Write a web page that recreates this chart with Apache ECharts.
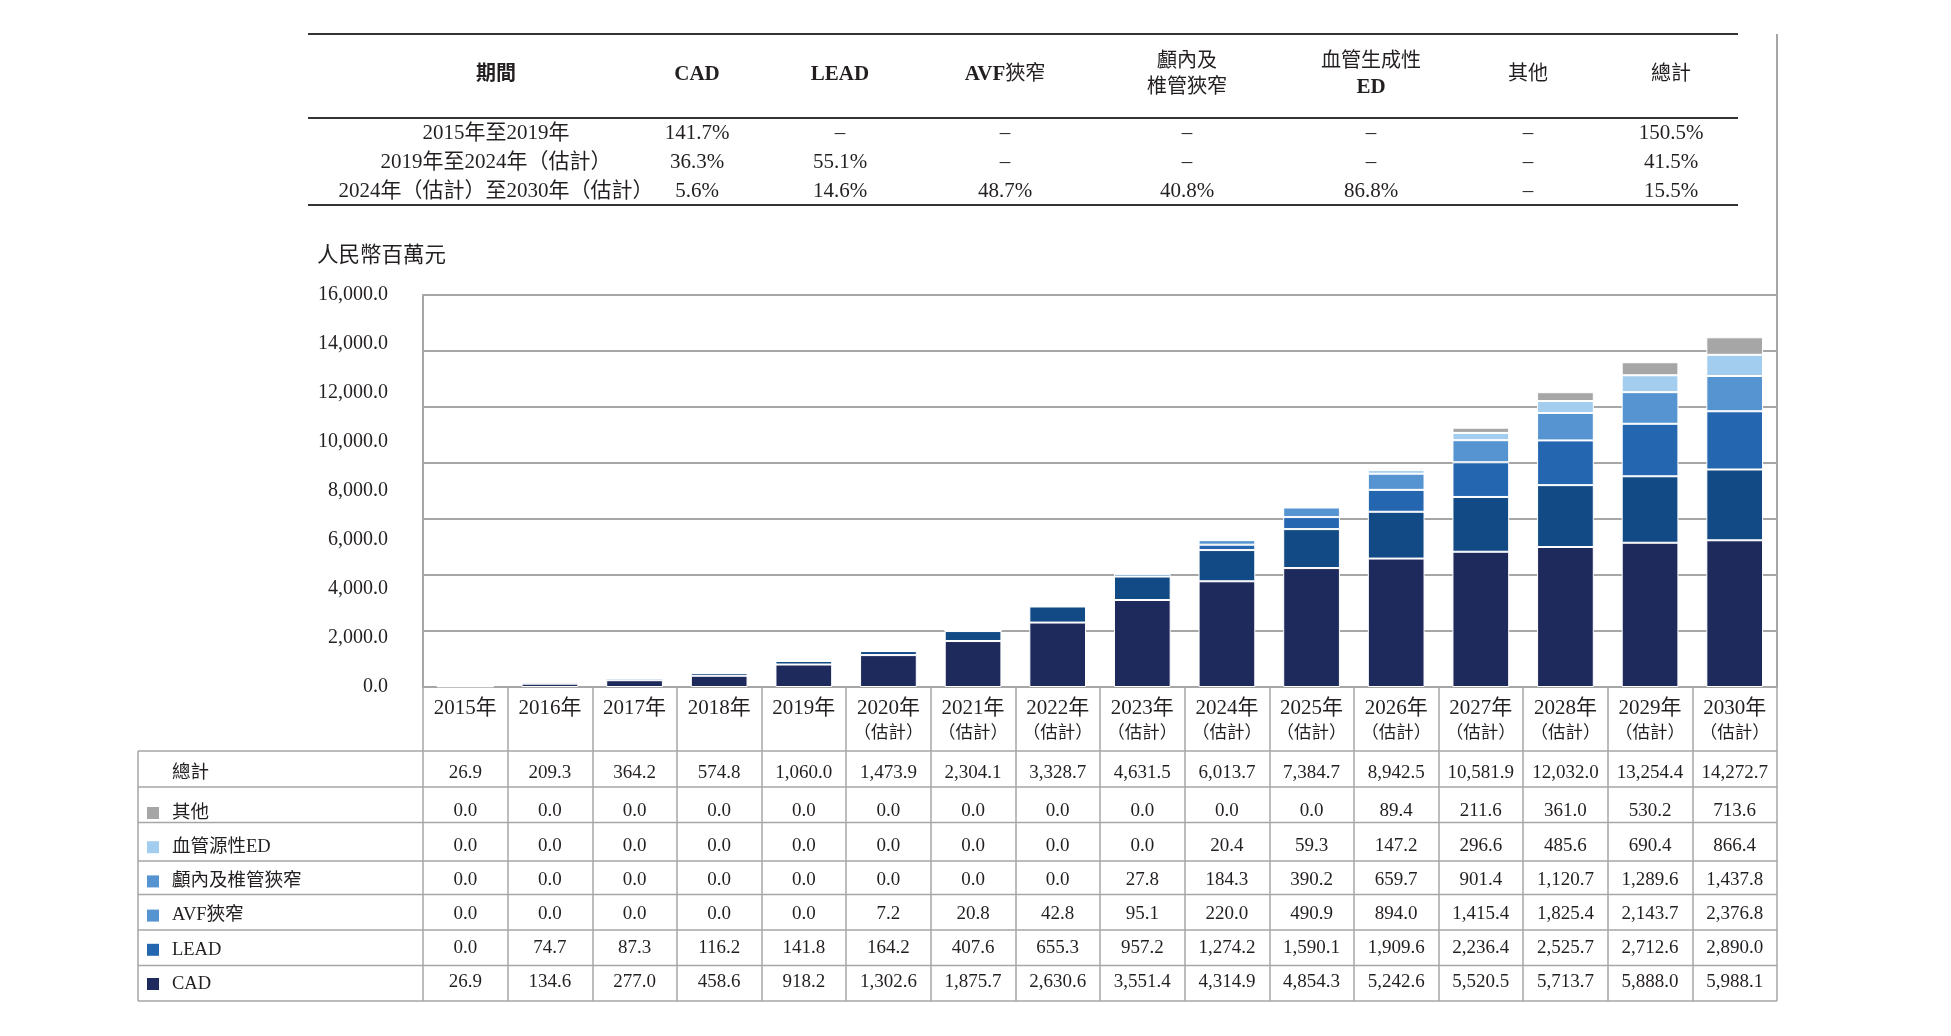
<!DOCTYPE html>
<html><head><meta charset="utf-8">
<script src="https://cdn.jsdelivr.net/npm/echarts@6/dist/echarts.min.js"></script>
<style>html,body{margin:0;padding:0;background:#fff}#c{width:1951px;height:1036px}</style>
</head><body><div id="c"></div>
<script>
// ---------- data ----------
const categories = ['2015年','2016年','2017年','2018年','2019年','2020年','2021年','2022年','2023年','2024年','2025年','2026年','2027年','2028年','2029年','2030年'];
const estimated = [false,false,false,false,false,true,true,true,true,true,true,true,true,true,true,true];
const cad = [26.9,134.6,277.0,458.6,918.2,1302.6,1875.7,2630.6,3551.4,4314.9,4854.3,5242.6,5520.5,5713.7,5888.0,5988.1];
const lead = [0.0,74.7,87.3,116.2,141.8,164.2,407.6,655.3,957.2,1274.2,1590.1,1909.6,2236.4,2525.7,2712.6,2890.0];
const avf = [0.0,0.0,0.0,0.0,0.0,7.2,20.8,42.8,95.1,220.0,490.9,894.0,1415.4,1825.4,2143.7,2376.8];
const intracranial = [0.0,0.0,0.0,0.0,0.0,0.0,0.0,0.0,27.8,184.3,390.2,659.7,901.4,1120.7,1289.6,1437.8];
const vasculogenicED = [0.0,0.0,0.0,0.0,0.0,0.0,0.0,0.0,0.0,20.4,59.3,147.2,296.6,485.6,690.4,866.4];
const others = [0.0,0.0,0.0,0.0,0.0,0.0,0.0,0.0,0.0,0.0,0.0,89.4,211.6,361.0,530.2,713.6];
const totals = [26.9,209.3,364.2,574.8,1060.0,1473.9,2304.1,3328.7,4631.5,6013.7,7384.7,8942.5,10581.9,12032.0,13254.4,14272.7];
const seriesNames = ['CAD','LEAD','AVF狹窄','顱內及椎管狹窄','血管源性ED','其他'];
const yMin = 0, yMax = 16000, yInterval = 2000;
const yUnit = '人民幣百萬元';
const totalLabel = '總計';

// CAGR table
const cagrHeaders = ['期間','CAD','LEAD','AVF狹窄','顱內及\n椎管狹窄','血管生成性\nED','其他','總計'];
const cagrPeriods = ['2015年至2019年','2019年至2024年（估計）','2024年（估計）至2030年（估計）'];
const cagrCAD = ['141.7%','36.3%','5.6%'];
const cagrLEAD = ['–','55.1%','14.6%'];
const cagrAVF = ['–','–','48.7%'];
const cagrIntracranial = ['–','–','40.8%'];
const cagrED = ['–','–','86.8%'];
const cagrOthers = ['–','–','–'];
const cagrTotal = ['150.5%','41.5%','15.5%'];

// ---------- style ----------
const FONT = "'Liberation Serif','Noto Sans CJK TC',serif";
const TXT = '#231f20';
const GRID = '#a6a6a6';
const barColors = ['#1f2a5c','#114a84','#2566b0','#5594d0','#a3cdee','#a6a6a6'];
const legendColors = {'CAD':'#1f2a5c','LEAD':'#2566b0','AVF狹窄':'#5594d0','顱內及椎管狹窄':'#5594d0','血管源性ED':'#a3cdee','其他':'#a6a6a6'};
const seriesData = [cad, lead, avf, intracranial, vasculogenicED, others];
const fmt = v => v.toLocaleString('en-US',{minimumFractionDigits:1,maximumFractionDigits:1});

// ---------- graphics: CAGR table & table frame ----------
const g = [];
const line = (x1,y1,x2,y2,stroke,w) => g.push({type:'line',silent:true,z:10,shape:{x1,y1,x2,y2},style:{stroke,lineWidth:w}});
const colX = [496,697,840,1005,1187,1371,1528,1671];
line(308,34,1738,34,'#333',2);
line(308,118,1738,118,'#333',2);
line(308,205,1738,205,'#333',2);
cagrHeaders.forEach((h,i)=>{
  const rich = {b:{fontFamily:FONT,fontSize:21,fontWeight:'bold',fill:TXT,lineHeight:26},
                n:{fontFamily:FONT,fontSize:20,fill:TXT,lineHeight:26},
                k:{fontFamily:FONT,fontSize:20,fontWeight:'bold',fill:TXT,lineHeight:26}};
  const txt = h.split('\n').map(part => part.replace(/([A-Za-z]+)/g,'{b|$1}').replace(/([^\x00-\x7f}{|]+)(?![^{]*\})/g, (m)=> i===0?'{k|'+m+'}':'{n|'+m+'}')).join('\n');
  g.push({type:'text',silent:true,z:10,x:colX[i],y:75,style:{text:txt,rich,align:'center',verticalAlign:'middle',fontFamily:FONT,fontSize:20,fill:TXT,lineHeight:26}});
});
const cagrCols = [cagrPeriods,cagrCAD,cagrLEAD,cagrAVF,cagrIntracranial,cagrED,cagrOthers,cagrTotal];
const rowY = [133,162,191];
cagrCols.forEach((col,ci)=>col.forEach((t,ri)=>{
  g.push({type:'text',silent:true,z:10,x:colX[ci],y:rowY[ri],style:{text:t,align:'center',verticalAlign:'middle',fontFamily:FONT,fontSize:21,fill:TXT}});
}));
// y unit title
g.push({type:'text',silent:true,x:317,y:256,style:{text:yUnit,align:'left',verticalAlign:'middle',fontFamily:FONT,fontSize:21.5,fill:TXT}});
// right frame line
line(1777,34,1777,687,GRID,2);
// data table horizontal lines
[751,787,822.5,861,894.5,930,965.5,1001].forEach(y=>line(138,y,1777,y,GRID,1.5));
line(138,751,138,1001,GRID,1.5);
g.push({type:'text',silent:true,x:172,y:773,style:{text:totalLabel,align:'left',verticalAlign:'middle',fontFamily:FONT,fontSize:18.5,fill:TXT}});

// ---------- chart ----------
const chart = echarts.init(document.getElementById('c'));
const legendOrder = ['其他','血管源性ED','顱內及椎管狹窄','AVF狹窄','LEAD','CAD'];
chart.setOption({
  animation:false,
  backgroundColor:'#fff',
  textStyle:{fontFamily:FONT,color:TXT},
  grid:{left:423,right:174,top:295,bottom:349,containLabel:false},
  legend:{
    orient:'vertical',left:147,top:803,padding:0,itemWidth:12,itemHeight:12,itemGap:14.2,
    selectedMode:false,icon:'rect',
    textStyle:{fontFamily:FONT,fontSize:18.5,color:TXT,lineHeight:20,padding:[0,0,0,8]},
    data:legendOrder.map(n=>({name:n,itemStyle:{color:legendColors[n],borderWidth:0}}))
  },
  xAxis:{
    type:'category',data:categories,
    axisLine:{show:true,lineStyle:{color:GRID,width:2}},
    axisTick:{show:true,interval:0,length:314,lineStyle:{color:GRID,width:1.5}},
    axisLabel:{
      interval:0,margin:8.5,color:TXT,
      formatter:(val,idx)=>{
        const L = [];
        L.push('{y|'+val+'}');
        L.push(estimated[idx] ? '{e|（估計）}' : '{e| }');
        L.push('{s1| }');
        L.push('{v|'+fmt(totals[idx])+'}');
        L.push('{s2| }');
        [others,vasculogenicED,intracranial,avf,lead,cad].forEach(a=>L.push('{v|'+fmt(a[idx])+'}'));
        return L.join('\n');
      },
      rich:{
        y:{fontFamily:FONT,fontSize:21,lineHeight:25,color:TXT},
        e:{fontFamily:FONT,fontSize:17.5,lineHeight:25,color:TXT},
        s1:{fontSize:1,lineHeight:10.6},
        s2:{fontSize:1,lineHeight:4.1},
        v:{fontFamily:FONT,fontSize:19,lineHeight:34.2,color:TXT}
      }
    }
  },
  yAxis:[
    {type:'value',min:yMin,max:yMax,interval:yInterval,
     axisLine:{show:true,lineStyle:{color:GRID,width:2}},axisTick:{show:false},
     splitLine:{show:false},
     axisLabel:{margin:35,fontFamily:FONT,fontSize:20,color:TXT,formatter:v=>fmt(v)}},
    {type:'value',min:0,max:7,interval:1,position:'right',
     axisLine:{show:false},axisTick:{show:false},axisLabel:{show:false},
     splitLine:{show:true,lineStyle:{color:GRID,width:2}}}
  ],
  series:seriesNames.map((n,i)=>({
    name:n,type:'bar',stack:'total',yAxisIndex:0,barCategoryGap:'33%',
    data:seriesData[i],
    itemStyle:{color:barColors[i],borderColor:'#ffffff',borderWidth:1}
  })),
  graphic:g
});
</script></body></html>
